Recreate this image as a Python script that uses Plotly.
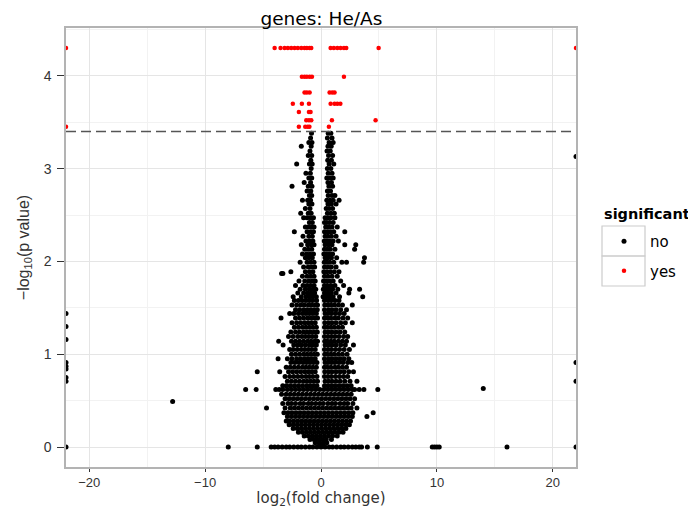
import plotly.graph_objects as go

# ---------------- data ----------------
title_text = "genes: He/As"
x_ticks = [-20, -10, 0, 10, 20]
y_ticks = [0, 1, 2, 3, 4]
p_threshold = 3.4

# significant genes ("yes")
sig_x = [-22, -4.0, -3.49, -3.14, -2.86, -2.57, -2.28, -2.0, -1.7, -1.42, -1.22, -0.98, -0.84,
         0.83, 1.11, 1.41, 1.69, 1.98, 2.18, 4.97, 22,
         -1.65, -1.42, -1.22, -0.98, -0.78, 1.98,
         -1.42, -1.22, -0.98, 0.74, 0.97, 1.17,
         -2.43, -1.65, -1.04, 0.83, 1.17, 1.41, 1.67,
         -1.91, -1.04, -0.90,
         -1.27, -1.04, -0.84, 0.94, 4.71,
         -22, -1.91, -1.36, -1.15, -1.0, 0.68]
sig_y = [4.30] * 21 + [3.99] * 6 + [3.82] * 6 + [3.70] * 7 + [3.61] * 3 + [3.52] * 5 + [3.45] * 6

# non-significant genes ("no"): upper arms of the volcano, row by row (y, x values)
arm_rows = [
    (3.38, [-0.82, 0.62, 0.85]),
    (3.33, [-0.9, 0.55, 0.95]),
    (3.28, [-0.78, -1.05, 0.7, 1.05]),
    (3.24, [-1.7, -0.85, 0.6, 0.88]),
    (3.19, [-0.95, 0.52, 0.8]),
    (3.14, [-0.8, -1.1, 0.65, 1.0]),
    (3.09, [-0.88, 0.58, 0.9]),
    (3.05, [-2.1, -0.76, -1.0, 0.7, 1.1]),
    (3.00, [-0.85, 0.55, 0.85]),
    (2.95, [-1.3, -0.92, 0.62, 0.95]),
    (2.90, [-0.8, -1.05, 0.5, 0.78, 1.05]),
    (2.85, [-1.45, -0.9, 0.6, 0.9]),
    (2.81, [-2.5, -0.78, -1.1, 0.68, 1.0]),
    (2.76, [-1.2, -0.88, 0.55, 0.82]),
    (2.71, [-0.8, -1.0, 0.62, 0.95, 1.2]),
    (2.66, [-1.6, -0.9, -1.15, 0.5, 0.78, 1.05, 1.56]),
    (2.62, [-0.78, -1.05, 0.6, 0.9, 1.3]),
    (2.57, [-1.35, -0.95, 0.45, 0.7, 1.0]),
    (2.52, [-1.75, -0.85, -1.1, 0.55, 0.85, 1.15]),
    (2.47, [-1.5, -1.2, -0.9, -0.65, 0.35, 0.6, 0.85, 1.2]),
    (2.42, [-1.0, -0.75, 0.3, 0.5, 0.75, 1.05]),
    (2.37, [-1.35, -1.1, -0.8, -0.6, 0.4, 0.65, 0.95, 1.4]),
    (2.32, [-2.3, -1.2, -0.9, -0.65, 0.3, 0.55, 0.8, 1.1, 2.05]),
    (2.27, [-1.55, -1.05, -0.75, 0.35, 0.6, 0.9, 1.3]),
    (2.22, [-1.3, -1.0, -0.7, 0.28, 0.5, 0.75, 1.05, 1.5]),
    (2.18, [-1.7, -1.15, -0.85, -0.6, 0.35, 0.65, 0.95, 2.05, 3.0]),
    (2.13, [-1.4, -1.1, -0.8, 0.3, 0.55, 0.8, 1.2, 2.9]),
    (2.08, [-1.6, -1.25, -0.95, -0.65, 0.25, 0.45, 0.7, 1.0]),
    (2.04, [-1.35, -1.05, -0.75, 0.35, 0.6, 0.9, 1.35, 3.75]),
    (1.99, [-1.8, -1.2, -0.9, -0.6, 0.28, 0.5, 0.75, 1.1, 1.8, 2.2, 3.68]),
    (1.94, [-1.5, -1.1, -0.8, -0.55, 0.3, 0.6, 0.9, 1.3]),
    (1.89, [-2.6, -1.35, -1.0, -0.7, 0.25, 0.5, 0.8, 1.15, 1.55]),
    (1.87, [-3.4, -3.29]),
    (1.84, [-1.6, -1.2, -0.9, -0.6, 0.3, 0.6, 0.95, 1.4]),
    (1.79, [-1.9, -1.4, -1.05, -0.75, -0.5, 0.22, 0.45, 0.75, 1.05, 1.7]),
    (1.74, [-2.2, -1.55, -1.2, -0.9, -0.6, 0.3, 0.55, 0.85, 1.2, 1.95]),
    (1.70, [-1.8, -1.35, -1.0, -0.7, -0.45, 0.2, 0.45, 0.7, 1.0, 1.45, 2.47, 3.33]),
    (1.66, [-2.0, -1.5, -1.15, -0.85, -0.55, 0.3, 0.6, 0.9, 1.3, 2.4]),
    (1.62, [-2.4, -1.7, -1.3, -1.0, -0.7, -0.4, 0.18, 0.45, 0.75, 1.05, 1.6, 3.6]),
]

# non-significant genes: dense core of the volcano, row by row (y, x values)
core_rows = [
    (1.58, [-2.3, -1.95, -1.62, -1.3, -1.0, -0.72, -0.38, 0.3, 0.62, 0.9, 1.22, 1.55]),
    (1.53, [-2.5, -2.1, -1.75, -1.45, -1.1, -0.8, -0.5, -0.3, 0.32, 0.55, 0.85, 1.15, 1.5, 1.85, 2.7]),
    (1.48, [-2.2, -1.85, -1.5, -1.2, -0.9, -0.6, -0.32, 0.3, 0.65, 0.95, 1.3, 1.7, 2.2]),
    (1.44, [-2.7, -2.35, -1.95, -1.6, -1.3, -1.0, -0.7, -0.4, 0.35, 0.6, 0.9, 1.25, 1.6, 2.0]),
    (1.39, [-3.45, -2.2, -1.85, -1.5, -1.15, -0.85, -0.55, -0.3, 0.3, 0.55, 0.85, 1.2, 1.5, 1.9, 2.3]),
    (1.34, [-2.5, -2.1, -1.75, -1.4, -1.1, -0.8, -0.5, 0.32, 0.65, 0.95, 1.3, 1.7, 2.1, 2.7]),
    (1.29, [-2.3, -1.95, -1.6, -1.3, -1.0, -0.7, -0.4, 0.3, 0.55, 0.85, 1.15, 1.5, 1.85]),
    (1.24, [-2.6, -2.2, -1.85, -1.5, -1.2, -0.9, -0.6, -0.32, 0.35, 0.65, 0.95, 1.3, 1.65, 2.05]),
    (1.19, [-2.8, -2.4, -2.0, -1.65, -1.35, -1.05, -0.75, -0.45, 0.3, 0.6, 0.9, 1.2, 1.55, 1.95, 2.3]),
    (1.14, [-3.65, -2.55, -2.2, -1.85, -1.5, -1.15, -0.85, -0.55, -0.3, 0.32, 0.55, 0.85, 1.15, 1.5, 1.85, 2.2]),
    (1.10, [-3.27, -2.35, -2.0, -1.7, -1.35, -1.0, -0.7, -0.4, 0.35, 0.65, 0.95, 1.3, 1.7, 2.1, 2.8]),
    (1.05, [-2.7, -2.4, -2.05, -1.7, -1.4, -1.1, -0.8, -0.5, 0.3, 0.6, 0.9, 1.25, 1.6, 2.0, 2.45]),
    (1.00, [-2.55, -2.2, -1.85, -1.5, -1.2, -0.9, -0.6, -0.32, 0.32, 0.55, 0.85, 1.15, 1.5, 1.85, 2.25]),
    (0.95, [-3.7, -2.9, -2.5, -2.1, -1.75, -1.4, -1.1, -0.8, -0.5, 0.3, 0.65, 0.95, 1.3, 1.65, 2.0, 2.4]),
    (0.91, [-2.6, -2.25, -1.9, -1.55, -1.25, -0.95, -0.65, -0.35, 0.35, 0.6, 0.9, 1.2, 1.55, 1.9, 2.3, 2.65]),
    (0.86, [-3.0, -2.65, -2.3, -1.95, -1.6, -1.3, -1.0, -0.7, -0.4, 0.3, 0.55, 0.85, 1.2, 1.5, 1.85, 2.2]),
    (0.81, [-5.5, -3.56, -2.8, -2.45, -2.1, -1.75, -1.4, -1.1, -0.8, -0.5, 0.32, 0.65, 0.95, 1.3, 1.65, 2.0, 2.4, 2.8]),
    (0.76, [-3.1, -2.7, -2.35, -2.0, -1.65, -1.3, -1.0, -0.7, -0.35, 0.3, 0.6, 0.9, 1.25, 1.6, 1.95, 2.3]),
    (0.71, [-2.9, -2.55, -2.2, -1.85, -1.5, -1.2, -0.9, -0.6, -0.3, 0.35, 0.65, 0.95, 1.3, 1.65, 2.05, 2.5, 3.1]),
    (0.66, [-3.3, -3.0, -2.65, -2.3, -1.95, -1.6, -1.25, -0.95, -0.65, -0.35, 0.3, 0.6, 0.9, 1.2, 1.55, 1.9, 2.25, 2.6]),
    (0.62, [-6.5, -5.6, -3.9, -3.6, -3.3, -2.9, -2.55, -2.2, -1.85, -1.5, -1.15, -0.8, -0.45, -0.1, 0.25,
            0.6, 0.95, 1.3, 1.65, 2.0, 2.35, 2.7, 2.9, 3.3, 3.7, 4.9]),
    (0.57, [-3.4, -3.0, -2.65, -2.3, -1.95, -1.6, -1.25, -0.9, -0.55, -0.2, 0.15, 0.5, 0.85, 1.2, 1.55, 1.9, 2.25, 2.6]),
    (0.52, [-3.1, -2.75, -2.4, -2.05, -1.7, -1.35, -1.0, -0.65, -0.3, 0.05, 0.4, 0.75, 1.1, 1.45, 1.8, 2.15, 2.5, 2.9]),
    (0.47, [-3.3, -2.85, -2.55, -2.2, -1.8, -1.5, -1.1, -0.8, -0.45, -0.1, 0.2, 0.6, 0.95, 1.25, 1.65, 2.0, 2.3, 2.75]),
    (0.42, [-4.7, -3.1, -2.65, -2.3, -1.95, -1.6, -1.25, -0.9, -0.55, -0.2, 0.15, 0.5, 0.85, 1.2, 1.55, 1.9, 2.25, 2.6, 3.1]),
    (0.37, [-3.2, -2.85, -2.5, -2.15, -1.8, -1.45, -1.1, -0.75, -0.4, -0.05, 0.3, 0.65, 1.0, 1.35, 1.7, 2.05, 2.4, 2.75, 4.5]),
    (0.33, [-2.9, -2.55, -2.2, -1.85, -1.5, -1.15, -0.8, -0.45, -0.1, 0.25, 0.6, 0.95, 1.3, 1.65, 2.0, 2.35, 2.7, 3.96]),
    (0.28, [-3.0, -2.7, -2.35, -2.0, -1.65, -1.3, -0.95, -0.6, -0.25, 0.1, 0.45, 0.8, 1.15, 1.5, 1.85, 2.2, 2.55]),
    (0.24, [-2.75, -2.4, -2.05, -1.7, -1.35, -1.0, -0.65, -0.3, 0.05, 0.4, 0.75, 1.1, 1.45, 1.8, 2.15, 2.45]),
    (0.20, [-2.4, -2.05, -1.7, -1.35, -1.0, -0.65, -0.3, 0.05, 0.4, 0.75, 1.1, 1.45, 1.8, 2.15]),
    (0.16, [-1.95, -1.6, -1.25, -0.9, -0.55, -0.2, 0.15, 0.5, 0.85, 1.2, 1.55, 1.9]),
    (0.12, [-1.45, -1.1, -0.75, -0.4, -0.05, 0.3, 0.65, 1.0, 1.4]),
    (0.08, [-0.95, -0.6, -0.25, 0.1, 0.45, 0.9]),
    (0.045, [-0.5, -0.15, 0.2, 0.5]),
    (0.015, [-0.15, 0.15]),
]

# non-significant genes with p value = 1 (y = 0)
base_x = [-22, -8.0, -5.5, -4.3, -4.0, -3.7, -3.35, -3.0, -2.7, -2.35, -2.0, -1.7, -1.35, -1.0, -0.7,
          -0.35, 0.0, 0.35, 0.7, 1.0, 1.35, 1.7, 2.0, 2.35, 2.7, 3.0, 3.3, 3.5, 4.0, 4.85,
          9.6, 9.8, 10.0, 10.2, 16.05, 22]

# isolated non-significant genes
out_x = [-12.8, 14.0, -22, -22, -22, -22, -22, -22, -22, -22, 22, 22, 22]
out_y = [0.49, 0.63, 1.44, 1.30, 1.16, 0.91, 0.87, 0.84, 0.75, 0.71, 3.13, 0.91, 0.71]

legend_title = "significant"

# ---------------- assemble ----------------
ns_x, ns_y = [], []
for yv, xs in arm_rows + core_rows:
    ns_x += xs
    ns_y += [yv] * len(xs)
ns_x += base_x
ns_y += [0] * len(base_x)
ns_x += out_x
ns_y += out_y

FONT = "DejaVu Sans, Liberation Sans, Arial, sans-serif"
FONT_ARIAL = "Liberation Sans, Arial, sans-serif"

# the page body adds an 8px margin; lay out in page pixels and shift by it
OFF = 8
W, H = 696 - OFF, 508 - OFF
PLOT_L, PLOT_R, PLOT_T, PLOT_B = 66, 576, 28, 467          # page pixels
L, R, T, B = PLOT_L - OFF, W - (PLOT_R - OFF), PLOT_T - OFF, H - (PLOT_B - OFF)
PW, PH = W - L - R, H - T - B


def px2paper_x(px):
    return (px - OFF - L) / float(PW)


def px2paper_y(py):
    return (H - B - (py - OFF)) / float(PH)


fig = go.Figure()
fig.add_trace(go.Scatter(x=ns_x, y=ns_y, mode="markers", name="no", legendgroup="no",
                         marker=dict(color="black", size=5, line=dict(width=0))))
fig.add_trace(go.Scatter(x=sig_x, y=sig_y, mode="markers", name="yes", legendgroup="yes",
                         marker=dict(color="#ff0000", size=4.5, line=dict(width=0))))

fig.add_hline(y=p_threshold, line=dict(color="#555555", width=1.5, dash="10px,5px"))

# legend key boxes (ggplot style)
for top, bot in [(226, 256), (256, 286)]:
    fig.add_shape(type="rect", xref="paper", yref="paper",
                  x0=px2paper_x(602), x1=px2paper_x(645), y0=px2paper_y(bot), y1=px2paper_y(top),
                  line=dict(color="#cccccc", width=1.2), fillcolor="rgba(0,0,0,0)", layer="below")

fig.add_annotation(text="<b>" + legend_title + "</b>", xref="paper", yref="paper",
                   x=px2paper_x(602), y=px2paper_y(214), xanchor="left", yanchor="middle",
                   showarrow=False, font=dict(size=14.5, color="black", family=FONT))

fig.update_layout(
    width=W, height=H,
    margin=dict(l=L, r=R, t=T, b=B),
    paper_bgcolor="white", plot_bgcolor="white",
    font=dict(family=FONT, color="#333333"),
    title=dict(text=title_text, x=(321.4 - OFF) / W, xanchor="center", y=1 - (19.0 - OFF) / H, yanchor="middle",
               font=dict(size=18.5, color="black", family=FONT)),
    showlegend=True,
    legend=dict(x=px2paper_x(598), xanchor="left", y=px2paper_y(225), yanchor="top",
                font=dict(size=15, color="black", family=FONT), itemsizing="trace", itemwidth=42,
                tracegroupgap=7, bgcolor="rgba(0,0,0,0)"),
    xaxis=dict(range=[-22, 22], tickvals=x_ticks,
               ticktext=[("\u2212" + str(-v)) if v < 0 else str(v) for v in x_ticks],
               showgrid=True, gridcolor="#e5e5e5", gridwidth=1, zeroline=False,
               minor=dict(dtick=5, tick0=0, showgrid=True, gridcolor="#f2f2f2", gridwidth=1),
               showline=True, mirror=True, linecolor="#b3b3b3", linewidth=1.5,
               ticks="outside", ticklen=3, tickcolor="#333333", tickwidth=1.2,
               tickfont=dict(size=13, color="#333333", family=FONT_ARIAL),
               automargin=False,
               title=dict(text="log<sub>2</sub>(fold change)", font=dict(size=15, color="#333333", family=FONT),
                          standoff=14)),
    yaxis=dict(range=[-0.215, 4.515], tickvals=y_ticks,
               showgrid=True, gridcolor="#e5e5e5", gridwidth=1, zeroline=False,
               minor=dict(dtick=0.5, tick0=0, showgrid=True, gridcolor="#f2f2f2", gridwidth=1),
               showline=True, mirror=True, linecolor="#b3b3b3", linewidth=1.5,
               ticks="outside", ticklen=7, tickcolor="#333333", tickwidth=1.2,
               ticklabelstandoff=3,
               tickfont=dict(size=14, color="#333333", family=FONT_ARIAL),
               automargin=False,
               title=dict(text="\u2212log<sub>10</sub>(p value)", font=dict(size=16, color="#333333", family=FONT_ARIAL),
                          standoff=10)),
)

fig.write_html("out.html")
